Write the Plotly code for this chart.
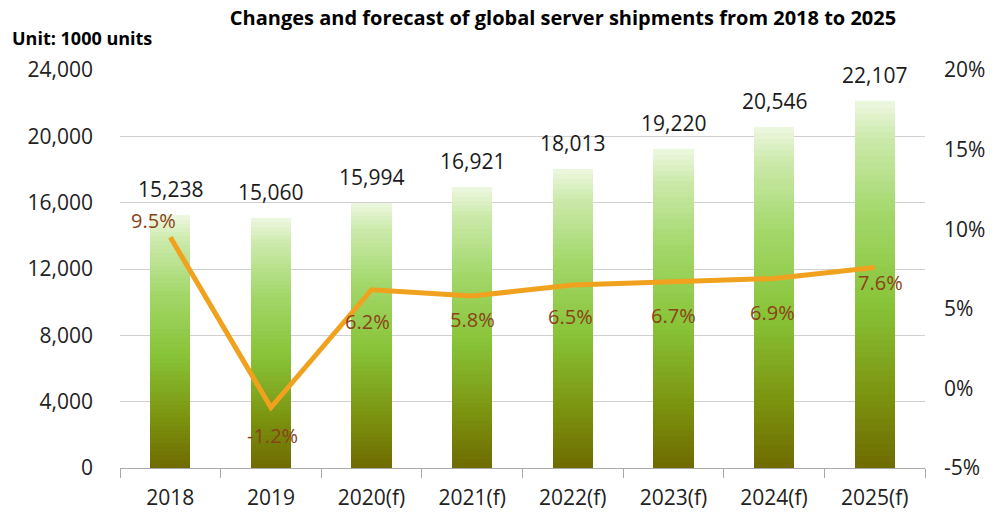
import plotly.graph_objects as go
from plotly.subplots import make_subplots

categories = ["2018", "2019", "2020(f)", "2021(f)", "2022(f)", "2023(f)", "2024(f)", "2025(f)"]
shipments = [15238, 15060, 15994, 16921, 18013, 19220, 20546, 22107]
growth = [9.5, -1.2, 6.2, 5.8, 6.5, 6.7, 6.9, 7.6]
growth_labels = ["9.5%", "-1.2%", "6.2%", "5.8%", "6.5%", "6.7%", "6.9%", "7.6%"]
pct_ticks = [-5, 0, 5, 10, 15, 20]
pct_ticktext = ["-5%", "0%", "5%", "10%", "15%", "20%"]

# label offsets (pixels) for the growth-rate labels
label_dx = [-17, 2, -4, 0, -2, 0, -2, 6]
label_dy = [17, -28, -32, -23, -32, -34, -34, -15]

FONT = "Open Sans"

# gradient stops (from bottom 0 to top 1)
stops = [(0.0, (0x6e, 0x6a, 0x00)), (0.2, (0x7c, 0x94, 0x10)), (0.45, (0x88, 0xc4, 0x38)),
         (0.7, (0xa4, 0xd8, 0x6c)), (0.9, (0xcc, 0xea, 0xac)), (1.0, (0xee, 0xf8, 0xe0))]

def grad(t):
    for (t0, c0), (t1, c1) in zip(stops[:-1], stops[1:]):
        if t0 <= t <= t1:
            f = (t - t0) / (t1 - t0)
            c = [round(a + (b - a) * f) for a, b in zip(c0, c1)]
            return "rgb(%d,%d,%d)" % tuple(c)
    return "rgb(%d,%d,%d)" % stops[-1][1]

N = 60
fig = make_subplots(specs=[[{"secondary_y": True}]])
for k in range(N):
    fig.add_trace(go.Bar(x=categories, y=[v / N for v in shipments],
                         marker=dict(color=grad((k + 0.5) / N), line=dict(width=0)),
                         width=0.4, showlegend=False, hoverinfo="skip"),
                  secondary_y=False)

fig.add_trace(go.Scatter(x=categories, y=growth, mode="lines",
                         line=dict(color="#f0a21e", width=5),
                         showlegend=False), secondary_y=True)

annotations = []
for i, v in enumerate(shipments):
    annotations.append(dict(x=i, y=v, xref="x", yref="y", text=f"{v:,}", showarrow=False,
                            yanchor="bottom", yshift=10,
                            font=dict(family=FONT, size=21, color="#1a1a1a")))
for i, (g, t, dx, dy) in enumerate(zip(growth, growth_labels, label_dx, label_dy)):
    annotations.append(dict(x=i, y=g, xref="x", yref="y2", text=t, showarrow=False,
                            xshift=dx, yshift=dy, yanchor="middle",
                            font=dict(family=FONT, size=20, color="#8a4218")))
annotations.append(dict(text="<b>Unit: 1000 units</b>", xref="paper", yref="paper",
                        x=-0.137, y=1.08, xanchor="left", yanchor="middle", showarrow=False,
                        font=dict(family=FONT, size=18, color="black")))

fig.update_layout(
    width=1000, height=515, barmode="stack", bargap=0.6,
    margin=dict(l=120, r=75, t=70, b=47),
    plot_bgcolor="white", paper_bgcolor="white",
    font=dict(family=FONT, size=18, color="#222"),
    title=dict(text="<b>Changes and forecast of global server shipments from 2018 to 2025</b>",
               x=0.563, xanchor="center", y=0.965, yanchor="middle",
               font=dict(family=FONT, size=20, color="black")),
    annotations=annotations,
)
fig.update_xaxes(type="category", domain=[0, 1], range=[-0.5, len(categories) - 0.5],
                 showgrid=False, showline=True, linecolor="#aaaaaa",
                 ticks="outside", tickson="boundaries", ticklen=9, tickcolor="#aaaaaa",
                 ticklabelstandoff=11, automargin=False,
                 tickfont=dict(family=FONT, size=21, color="#222"))
fig.update_yaxes(range=[0, 24000], dtick=4000, tickformat=",", showgrid=True,
                 gridcolor="#d0d0d0", zeroline=False, showline=False, automargin=False,
                 ticklabelstandoff=26, tickfont=dict(family=FONT, size=21, color="#222"),
                 secondary_y=False)
fig.update_yaxes(range=[-5, 20], tickvals=pct_ticks, ticktext=pct_ticktext,
                 showgrid=False, zeroline=False, automargin=False,
                 showline=False, ticklabelstandoff=18,
                 tickfont=dict(family=FONT, size=21, color="#222"), secondary_y=True)

fig.write_html("out.html")
